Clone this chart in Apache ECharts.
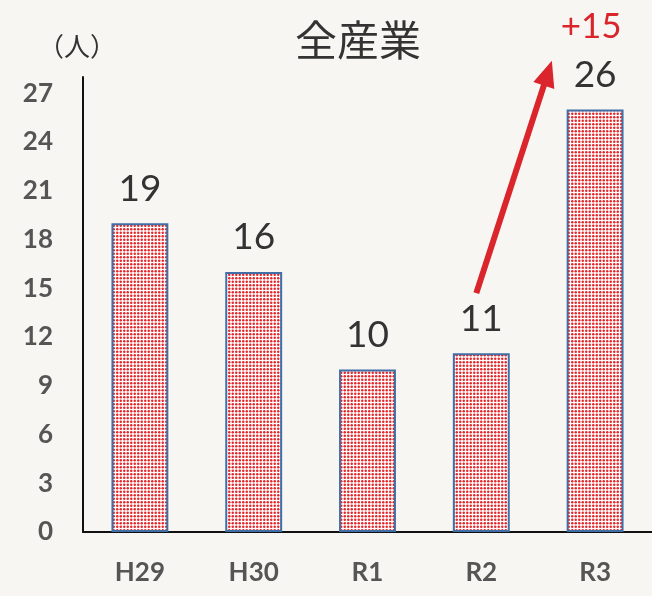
<!DOCTYPE html>
<html>
<head>
<meta charset="utf-8">
<script src="https://cdn.jsdelivr.net/npm/echarts@6/dist/echarts.min.js"></script>
<style>
  html, body { margin: 0; padding: 0; background: #f7f6f2; }
  #chart { width: 652px; height: 596px; }
</style>
</head>
<body>
<div id="chart"></div>
<script>
// データ
const categories = ['H29', 'H30', 'R1', 'R2', 'R3'];
const workers = [19, 16, 10, 11, 26];
const yTicks = [0, 3, 6, 9, 12, 15, 18, 21, 24, 27];
const increaseLabel = '+15';

// 赤いドット柄
const dotCanvas = document.createElement('canvas');
dotCanvas.width = 7;
dotCanvas.height = 7;
const dctx = dotCanvas.getContext('2d');
dctx.fillStyle = '#ffffff';
dctx.fillRect(0, 0, 7, 7);
dctx.fillStyle = '#e3262a';
[[1.75, 1.75], [5.25, 1.75], [1.75, 5.25], [5.25, 5.25]].forEach(p => {
  dctx.beginPath();
  dctx.arc(p[0], p[1], 1.25, 0, Math.PI * 2);
  dctx.fill();
});

const myChart = echarts.init(document.getElementById('chart'));

const option = {
  backgroundColor: '#f7f6f2',
  animation: false,
  title: {
    text: '全産業',
    left: 353,
    top: 14,
    textAlign: 'center',
    textStyle: {
      fontFamily: 'Noto Sans CJK JP',
      fontSize: 42,
      fontWeight: 'normal',
      color: '#333333'
    }
  },
  grid: {
    left: 83,
    right: 0,
    top: 77,
    bottom: 64
  },
  xAxis: {
    type: 'category',
    data: categories,
    axisLine: { lineStyle: { color: '#111111', width: 2 } },
    axisTick: { show: false },
    axisLabel: {
      margin: 28,
      fontFamily: 'Lato',
      fontWeight: 'bold',
      fontSize: 26,
      color: '#555555'
    }
  },
  yAxis: {
    type: 'value',
    min: yTicks[0],
    max: 28,
    interval: 3,
    name: '（人）',
    nameLocation: 'end',
    nameGap: 18,
    nameTextStyle: {
      fontFamily: 'Noto Sans CJK JP',
      fontSize: 26,
      color: '#333333',
      align: 'center',
      padding: [0, 12, 0, 0]
    },
    axisLine: { show: true, lineStyle: { color: '#111111', width: 2 } },
    axisTick: { show: false },
    splitLine: { show: false },
    axisLabel: {
      margin: 30,
      showMaxLabel: false,
      fontFamily: 'Lato',
      fontWeight: 'bold',
      fontSize: 26,
      color: '#555555',
      formatter: v => (yTicks.indexOf(v) >= 0 ? String(v) : '')
    }
  },
  series: [{
    type: 'bar',
    data: workers,
    barWidth: '50%',
    itemStyle: {
      color: { image: dotCanvas, repeat: 'repeat' },
      borderColor: '#3f6fa6',
      borderWidth: 2
    },
    label: {
      show: true,
      position: 'top',
      distance: 16,
      fontFamily: 'Lato',
      fontSize: 37,
      color: '#333333'
    }
  }]
};

myChart.setOption(option);

// 増加の矢印と「+15」
function drawArrow() {
  const from = myChart.convertToPixel({ seriesIndex: 0 }, ['R2', 14.7]);
  const r2 = myChart.convertToPixel({ seriesIndex: 0 }, ['R2', 0]);
  const r3 = myChart.convertToPixel({ seriesIndex: 0 }, ['R3', 29.0]);
  const tip = [r2[0] + (r3[0] - r2[0]) * 0.62, r3[1]];
  from[0] = r2[0] - 5;
  const dx = tip[0] - from[0];
  const dy = tip[1] - from[1];
  const len = Math.sqrt(dx * dx + dy * dy);
  const ux = dx / len, uy = dy / len;
  const headLen = 26, headW = 11;
  const base = [tip[0] - ux * headLen, tip[1] - uy * headLen];
  const px = -uy, py = ux;
  const labelPos = myChart.convertToPixel({ seriesIndex: 0 }, ['R3', 31.1]);
  myChart.setOption({
    graphic: [
      {
        type: 'line',
        shape: { x1: from[0], y1: from[1], x2: base[0] + ux * 2, y2: base[1] + uy * 2 },
        style: { stroke: '#d9252b', lineWidth: 6 }
      },
      {
        type: 'polygon',
        shape: {
          points: [
            tip,
            [base[0] + px * headW, base[1] + py * headW],
            [base[0] - px * headW, base[1] - py * headW]
          ]
        },
        style: { fill: '#d9252b' }
      },
      {
        type: 'text',
        x: labelPos[0] - 4,
        y: labelPos[1],
        style: {
          text: increaseLabel,
          fontFamily: 'Lato',
          fontSize: 35,
          fill: '#d9252b',
          align: 'center',
          verticalAlign: 'middle'
        }
      }
    ]
  });
}
drawArrow();
</script>
</body>
</html>
